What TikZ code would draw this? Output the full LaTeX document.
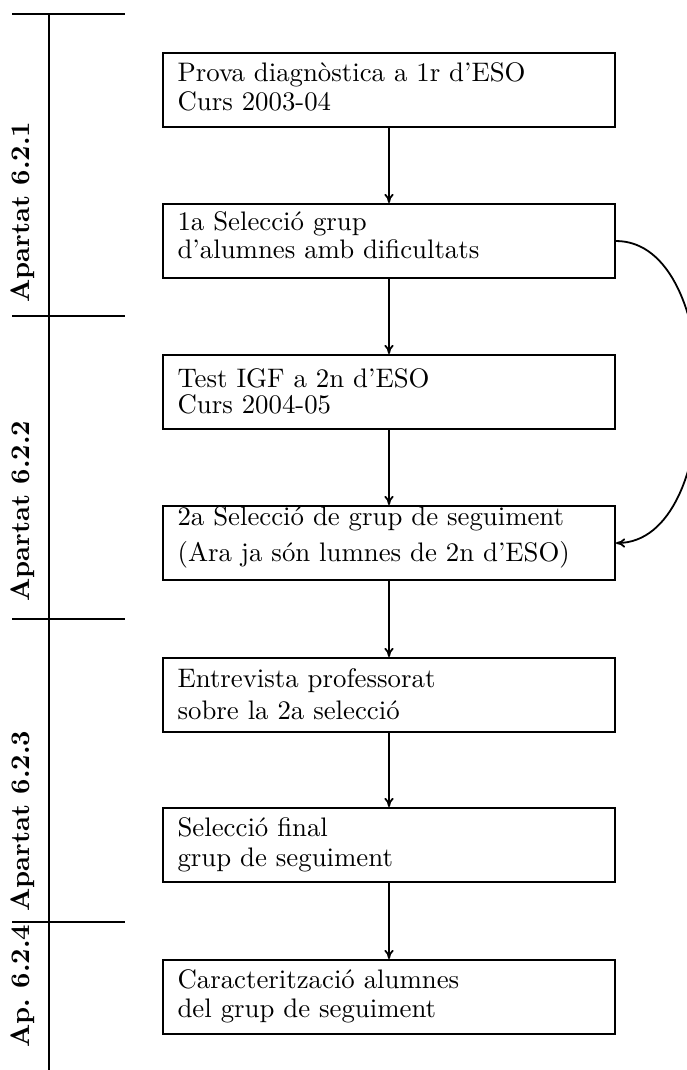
\documentclass[tikz,border=0pt]{standalone}
\usetikzlibrary{calc,arrows.meta}
\begin{document}
\begin{tikzpicture}[x=0.39pt,y=-0.39pt,
  stepbox/.style={draw, line width=0.7pt, minimum width=176.3pt, minimum height=28.9pt, inner sep=0pt},
  txtline/.style={anchor=base west, inner sep=0pt, font=\fontsize{10.45pt}{12.5pt}\selectfont},
  seclabel/.style={rotate=90, anchor=base west, inner sep=0pt, font=\fontsize{10.45pt}{12.5pt}\selectfont\bfseries},
  rule/.style={line width=0.7pt},
  flow/.style={line width=0.7pt, -{To[length=3.6pt,width=3.6pt]}}]

\useasboundingbox (0,0) rectangle (686,1070);

% section rules on the left
\draw[rule] (49,14) -- (49,1070);
\draw[rule] (12,14) -- (125,14);
\draw[line width=1.1pt] (12,14) -- (87,14);
\draw[rule] (12,316) -- (125,316);
\draw[rule] (12,619) -- (125,619);
\draw[rule] (12,922) -- (125,922);

% section labels
\node[seclabel] (s1) at (29,303) {Apartat 6.2.1};
\node[seclabel] (s2) at (29,602) {Apartat 6.2.2};
\node[seclabel] (s3) at (29,912) {Apartat 6.2.3};
\node[seclabel] (s4) at (29,1048) {Ap.\ 6.2.4};

% process boxes
\node[stepbox] (b1) at (389,90)  {};
\node[stepbox] (b2) at (389,241) {};
\node[stepbox] (b3) at (389,392) {};
\node[stepbox] (b4) at (389,543) {};
\node[stepbox] (b5) at (389,695) {};
\node[stepbox] (b6) at (389,845) {};
\node[stepbox] (b7) at (389,997) {};

% box texts
\node[txtline] (t1a) at ($(b1.north west)+(15,29)$) {Prova diagnòstica a 1r d'ESO};
\node[txtline] (t1b) at ($(t1a.base west)+(0,29)$) {Curs 2003-04};
\node[txtline] (t2a) at ($(b2.north west)+(15,27)$) {1a Selecció grup};
\node[txtline] (t2b) at ($(t2a.base west)+(0,28)$) {d'alumnes amb dificultats};
\node[txtline] (t3a) at ($(b3.north west)+(15,33)$) {Test IGF a 2n d'ESO};
\node[txtline] (t3b) at ($(t3a.base west)+(0,26)$) {Curs 2004-05};
\node[txtline] (t4a) at ($(b4.north west)+(15,20)$) {2a Selecció de grup de seguiment};
\node[txtline] (t4b) at ($(t4a.base west)+(0,36)$) {(Ara ja són lumnes de 2n d'ESO)};
\node[txtline] (t5a) at ($(b5.north west)+(15,30)$) {Entrevista professorat};
\node[txtline] (t5b) at ($(t5a.base west)+(0,32)$) {sobre la 2a selecció};
\node[txtline] (t6a) at ($(b6.north west)+(15,29)$) {Selecció final};
\node[txtline] (t6b) at ($(t6a.base west)+(0,30)$) {grup de seguiment};
\node[txtline] (t7a) at ($(b7.north west)+(15,29)$) {Caracterització alumnes};
\node[txtline] (t7b) at ($(t7a.base west)+(0,29)$) {del grup de seguiment};

% connectors
\draw[flow] (b1) -- (b2);
\draw[flow] (b2) -- (b3);
\draw[flow] (b3) -- (b4);
\draw[flow] (b4) -- (b5);
\draw[flow] (b5) -- (b6);
\draw[flow] (b6) -- (b7);
\draw[flow] (b2.east) .. controls ($(b2.east)+(110,0)$) and ($(b4.east)+(110,0)$) .. (b4.east);
\end{tikzpicture}
\end{document}
